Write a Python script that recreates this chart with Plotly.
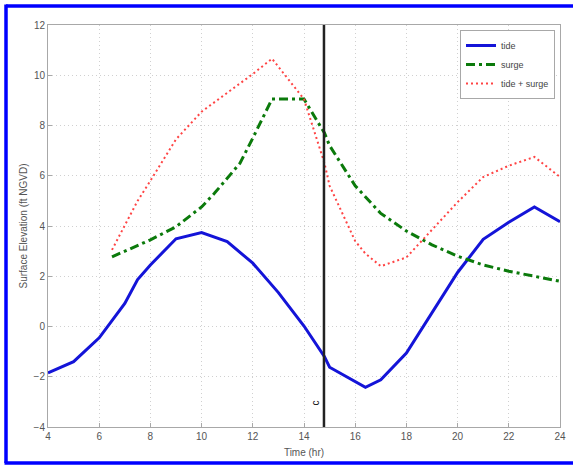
import plotly.graph_objects as go

# ---- data ----
tide_time = [4, 5, 6, 7, 7.5, 8, 9, 10, 11, 12, 13, 14, 14.8, 15, 16.4, 17, 18, 19, 20, 21, 22, 23, 24]
tide_elev = [-1.85, -1.4, -0.45, 0.92, 1.87, 2.45, 3.49, 3.74, 3.38, 2.52, 1.35, 0.02, -1.2, -1.62,
             -2.42, -2.12, -1.06, 0.55, 2.15, 3.47, 4.15, 4.76, 4.17]

surge_time = [6.5, 7, 8, 9, 10, 10.5, 11, 11.5, 12, 12.75, 14, 14.8, 15, 16, 17, 18, 19, 20, 21, 22, 23, 24]
surge_elev = [2.77, 3.0, 3.45, 3.97, 4.76, 5.3, 5.9, 6.5, 7.5, 9.05, 9.05, 7.7, 7.2, 5.6, 4.5, 3.8,
              3.25, 2.8, 2.45, 2.2, 2.0, 1.8]

total_time = [6.5, 7, 7.5, 8, 9, 10, 11, 12, 12.75, 14, 14.8, 15, 16, 16.4, 17, 18, 19, 20, 21, 22, 23, 24]
total_elev = [3.05, 4.0, 5.0, 5.8, 7.45, 8.55, 9.3, 10.05, 10.66, 9.05, 6.5, 5.6, 3.4, 2.9, 2.4,
              2.75, 3.85, 4.95, 5.95, 6.4, 6.75, 5.95]

event_time = 14.78
event_label = "c"
event_label_y = -3.05

x_ticks = [4, 6, 8, 10, 12, 14, 16, 18, 20, 22, 24]
y_ticks = [-4, -2, 0, 2, 4, 6, 8, 10, 12]

FONT = "Liberation Sans, Arial, sans-serif"

fig = go.Figure()
fig.add_trace(go.Scatter(x=tide_time, y=tide_elev, mode="lines", name="tide",
                         line=dict(color="#1414d8", width=3)))
fig.add_trace(go.Scatter(x=surge_time, y=surge_elev, mode="lines", name="surge",
                         line=dict(color="#0b7a0b", width=3, dash="9px,4px,3px,4px")))
fig.add_trace(go.Scatter(x=total_time, y=total_elev, mode="lines", name="tide + surge",
                         line=dict(color="#ff4444", width=2, dash="2px,3px")))

# vertical event line
fig.add_shape(type="line", xref="x", yref="paper", x0=event_time, x1=event_time, y0=0, y1=1,
              line=dict(color="#222222", width=2.5))
fig.add_annotation(x=event_time, y=event_label_y, xref="x", yref="y", text=event_label,
                   textangle=-90, showarrow=False, xanchor="right", yanchor="middle",
                   xshift=-1, font=dict(family=FONT, size=10, color="#111111"))

# blue frame around the figure (paper coordinates)
L, R, T, B = 48, 18, 25, 38
W, H = 578, 465
pw, ph = W - L - R, H - T - B
def px(xp):
    return (xp - L) / pw
def py(yp):
    return (H - B - yp) / ph
frame = dict(color="#0000ff", width=3.5)
fig.add_shape(type="line", xref="paper", yref="paper", x0=px(6), x1=px(573), y0=py(6), y1=py(6), line=frame)
fig.add_shape(type="line", xref="paper", yref="paper", x0=px(6), x1=px(6), y0=py(4.5), y1=py(463), line=frame)
fig.add_shape(type="line", xref="paper", yref="paper", x0=px(4.5), x1=px(573), y0=py(463), y1=py(463), line=frame)

axis_common = dict(showline=True, mirror=True, linecolor="#a8a8a8", linewidth=1,
                   showgrid=True, gridcolor="#d0d0d0", griddash="1px,3px", gridwidth=1,
                   ticks="inside", ticklen=4, tickcolor="#a8a8a8", zeroline=False,
                   tickfont=dict(family=FONT, size=10, color="#555555"))

fig.update_layout(
    width=W, height=H,
    margin=dict(l=L, r=R, t=T, b=B, autoexpand=False),
    paper_bgcolor="white", plot_bgcolor="white",
    font=dict(family=FONT, size=10, color="#555555"),
    xaxis=dict(range=[4, 24], tickvals=x_ticks, automargin=False,
               title=dict(text="Time (hr)", font=dict(family=FONT, size=10, color="#555555"), standoff=7),
               **axis_common),
    yaxis=dict(range=[-4, 12], tickvals=y_ticks, automargin=False,
               title=dict(text="Surface Elevation (ft NGVD)", font=dict(family=FONT, size=10, color="#555555"), standoff=4),
               **axis_common),
    legend=dict(x=px(555), y=py(30), xanchor="right", yanchor="top",
                bgcolor="white", bordercolor="#a8a8a8", borderwidth=1,
                font=dict(family=FONT, size=9, color="#444444"),
                tracegroupgap=0, itemwidth=30),
    showlegend=True,
)

fig.write_html("out.html", config={"displayModeBar": False},
               post_script="document.body.style.margin='0';document.body.style.overflow='hidden';")
